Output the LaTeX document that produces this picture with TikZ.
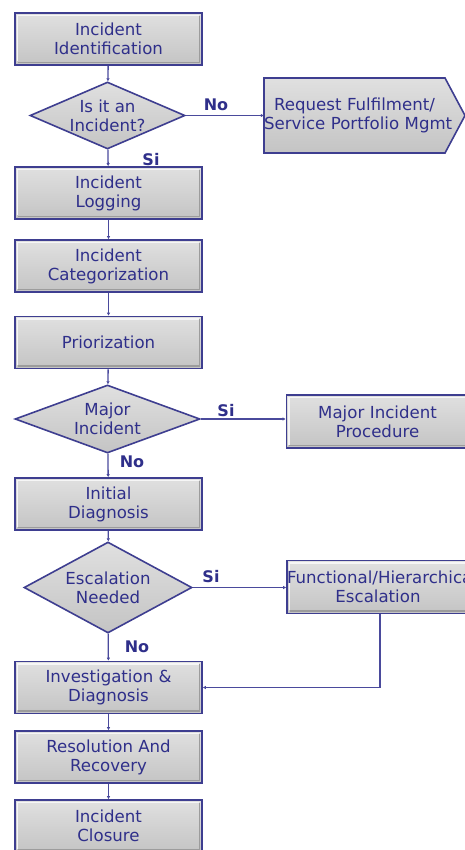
\documentclass[tikz,border=0pt]{standalone}
\usepackage{fontspec}
\setmainfont{DejaVu Sans}
\usetikzlibrary{arrows.meta,calc,shapes.geometric}
\definecolor{navy}{HTML}{2F2F8A}
\definecolor{edgec}{HTML}{3E3E90}
\definecolor{linec}{HTML}{4A4A9C}
\definecolor{ftop}{HTML}{E0E0E0}
\definecolor{fmid}{HTML}{D3D3D3}
\definecolor{fbot}{HTML}{C4C4C4}
\definecolor{hil}{HTML}{F6F6F6}
\definecolor{shd}{HTML}{9C9C9C}
\begin{document}
\begin{tikzpicture}[x=1pt,y=-1pt,
  base/.style={draw=edgec, line width=1.6pt, top color=ftop, middle color=fmid, bottom color=fbot},
  bevel/.style={path picture={
     \draw[hil, line width=1.6pt]
       ([xshift=2.6pt,yshift=3.5pt]path picture bounding box.south west) --
       ([xshift=2.6pt,yshift=-2.6pt]path picture bounding box.north west) --
       ([xshift=-3.5pt,yshift=-2.6pt]path picture bounding box.north east);
     \draw[shd, line width=1.6pt]
       ([xshift=-2.6pt,yshift=-2.6pt]path picture bounding box.north east) --
       ([xshift=-2.6pt,yshift=2.6pt]path picture bounding box.south east) --
       ([xshift=2.6pt,yshift=2.6pt]path picture bounding box.south west);
  }},
  txt/.style={text=navy, align=center, font=\fontsize{16.6}{19}\selectfont, inner sep=0pt},
  procbox/.style={base, bevel, txt, rectangle, minimum width=187pt, minimum height=52pt},
  sidebox/.style={base, bevel, txt, rectangle, text width=182pt, minimum height=53pt},
  dia/.style={base, diamond, inner sep=0pt, minimum width=#1},
  conn/.style={draw=linec, line width=1.3pt, -{Latex[length=3pt,width=3.5pt]}},
  lab/.style={text=navy, font=\bfseries\fontsize{16}{18}\selectfont, inner sep=0pt}
]
\useasboundingbox (0,0) rectangle (465,850);

% main column
\node[procbox] (ident) at (108.5,39) {Incident\\Identification};
\node[dia=155pt, minimum height=67pt] (d1) at (107.5,115.5) {};
\node[txt] (d1t) at (d1) {Is it an\\Incident?};

% request fulfilment pentagon
\coordinate (rfc) at (354.5,115.5);
\draw[base] ($(rfc)+(-90.5,-37.5)$) -- ($(rfc)+(90.5,-37.5)$) -- ($(rfc)+(110.5,0)$)
  -- ($(rfc)+(90.5,37.5)$) -- ($(rfc)+(-90.5,37.5)$) -- cycle;
\node[txt, text width=181pt, minimum height=75pt] (rf) at (rfc) {\mbox{Request Fulfilment/}\\\mbox{Service Portfolio Mgmt}};

\node[procbox] (logg) at (108.5,193) {Incident\\Logging};
\node[procbox] (cat) at (108.5,266) {Incident\\Categorization};
\node[procbox] (pri) at (108.5,342.5) {Priorization};
\node[dia=185pt, minimum height=68pt] (d2) at (107.5,419) {};
\node[txt] (d2t) at (d2) {Major\\Incident};
\node[sidebox] (mip) at (377.5,421.5) {Major Incident\\Procedure};
\node[procbox] (init) at (108.5,504) {Initial\\Diagnosis};
\node[dia=168pt, minimum height=91pt] (d3) at (108,587.5) {};
\node[txt] (d3t) at (d3) {Escalation\\Needed};
\node[sidebox] (feh) at (378,587) {\mbox{Functional/Hierarchical}\\Escalation};
\node[procbox] (inv) at (108.5,687.5) {Investigation \&\\Diagnosis};
\node[procbox] (res) at (108.5,757) {Resolution And\\Recovery};
\node[procbox] (clo) at (108.5,826) {Incident\\Closure};

% connectors
\draw[conn] (ident) -- (d1);
\draw[conn] (d1.east) -- (rf.west);
\draw[conn] (d1) -- (logg);
\draw[conn] (logg) -- (cat);
\draw[conn] (cat) -- (pri);
\draw[conn] (pri) -- (d2);
\draw[conn] (d2.east) -- (d2.east -| mip.west);
\draw[conn] (d2) -- (init);
\draw[conn] (init) -- (d3);
\draw[conn] (d3.east) -- (d3.east -| feh.west);
\draw[conn] (d3) -- (inv);
\draw[conn] ([xshift=2pt]feh.south) |- (inv.east);
\draw[conn] (inv) -- (res);
\draw[conn] (res) -- (clo);

% labels
\node[lab] (l1) at (216,105) {No};
\node[lab] (l2) at (151,160) {Si};
\node[lab] (l3) at (226,411) {Si};
\node[lab] (l4) at (132,462) {No};
\node[lab] (l5) at (211,577) {Si};
\node[lab] (l6) at (137,647) {No};
\end{tikzpicture}
\end{document}
